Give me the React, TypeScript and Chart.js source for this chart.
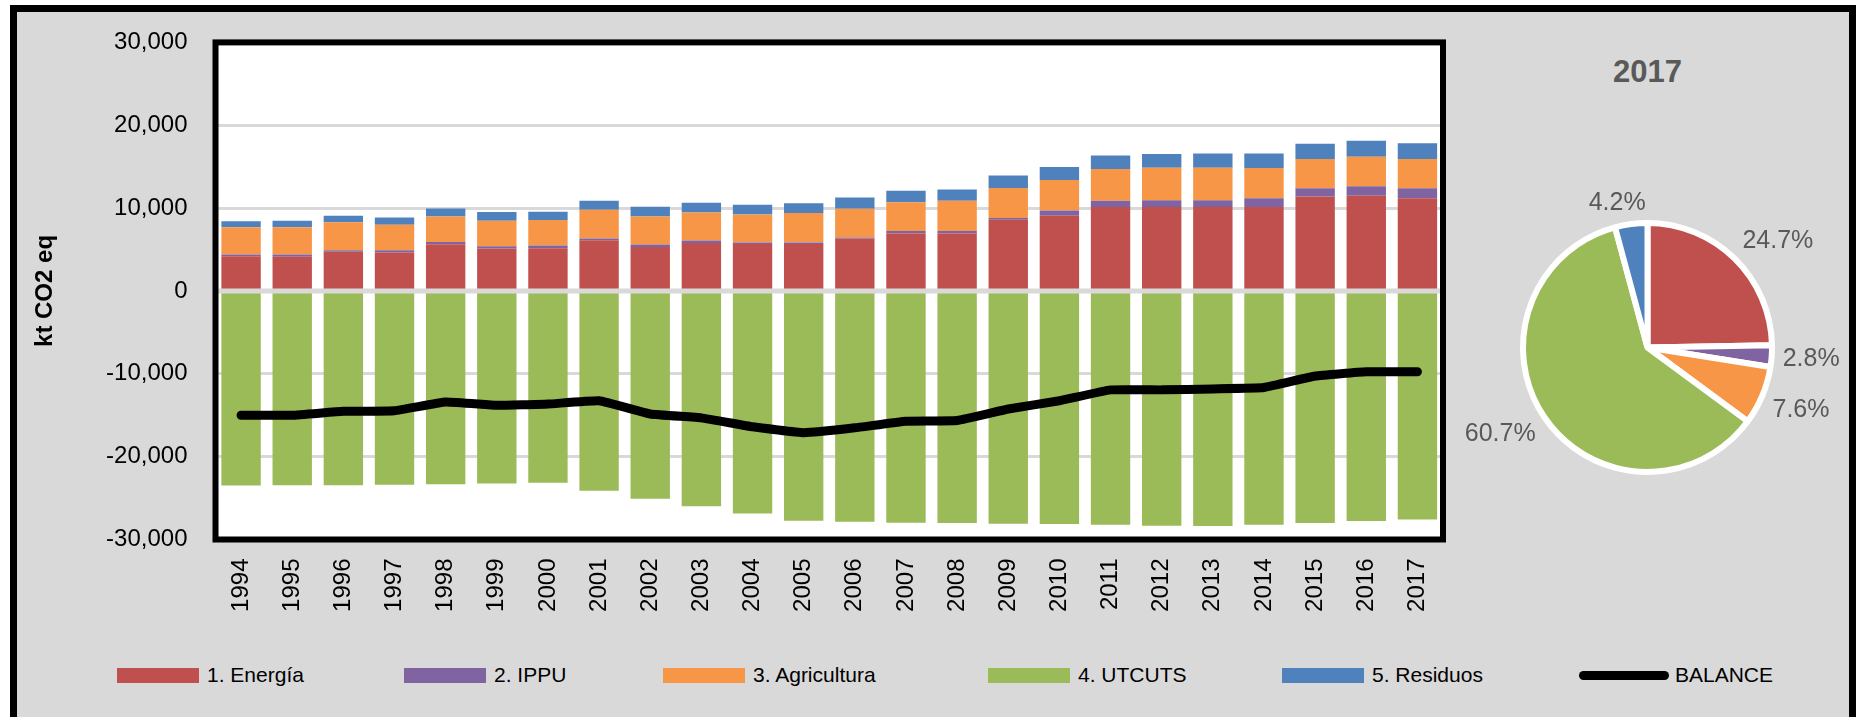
import React, { useEffect, useRef } from "react";
import { Chart, registerables } from "chart.js";

Chart.register(...registerables);

// ---------- data ----------
const years = [
  "1994", "1995", "1996", "1997", "1998", "1999", "2000", "2001", "2002", "2003", "2004", "2005",
  "2006", "2007", "2008", "2009", "2010", "2011", "2012", "2013", "2014", "2015", "2016", "2017",
];

const energia = [
  4200, 4120, 4720, 4640, 5640, 5120, 5160, 6120, 5300, 5800, 5680, 5680,
  6320, 6920, 6920, 8600, 9080, 10120, 10120, 10120, 10120, 11400, 11480, 11200,
];
const ippu = [
  200, 280, 200, 280, 280, 280, 320, 200, 300, 280, 160, 160,
  120, 320, 320, 200, 640, 760, 840, 840, 1080, 1000, 1160, 1200,
];
const agricultura = [
  3280, 3280, 3360, 3080, 3080, 3080, 3080, 3480, 3400, 3400, 3400, 3560,
  3480, 3480, 3640, 3640, 3680, 3840, 3920, 3920, 3640, 3520, 3560, 3520,
];
const utcuts = [
  -23480, -23440, -23440, -23400, -23320, -23240, -23160, -24120, -25070, -25990, -26870, -27740,
  -27860, -27980, -28020, -28100, -28140, -28220, -28340, -28380, -28220, -28020, -27780, -27580,
];
const residuos = [
  720, 800, 800, 880, 960, 1040, 1000, 1080, 1160, 1160, 1160, 1200,
  1360, 1360, 1360, 1480, 1560, 1640, 1640, 1720, 1760, 1840, 1920, 1920,
];
const balance = [
  -15000, -15000, -14530, -14450, -13410, -13810, -13650, -13250, -14850, -15320, -16400, -17110,
  -16520, -15720, -15640, -14250, -13250, -11940, -11940, -11820, -11660, -10270, -9750, -9750,
];

const seriesNames = ["1. Energía", "2. IPPU", "3. Agricultura", "4. UTCUTS", "5. Residuos", "BALANCE"];
const seriesColors = ["#c0504d", "#8064a2", "#f79646", "#9bbb59", "#4f81bd", "#000000"];

const yTicks = [-30000, -20000, -10000, 0, 10000, 20000, 30000];
const yTitle = "kt CO2 eq";

const pieTitle = "2017";
const pieShares = [24.7, 2.8, 7.6, 60.7, 4.2];

// ---------- layout ----------
const FONT = '"Liberation Sans", Arial, sans-serif';
const BAR_W = 1470;
const BAR_H = 640;
const PLOT_LEFT = 215.5;
const PLOT_RIGHT = 1443;
const PLOT_TOP = 39;
const PLOT_BOTTOM = 539.5;

const PIE_LEFT = 1447;
const PIE_TOP = 147;
const PIE_SIZE = 401;
const PIE_BORDER = 6;

const legendX = [117, 404, 663, 988, 1282, 1579];

const clamp1 = (v: number) => Math.max(-1, Math.min(1, v));

export default function App() {
  const barRef = useRef<HTMLCanvasElement | null>(null);
  const pieRef = useRef<HTMLCanvasElement | null>(null);

  useEffect(() => {
    const framePlugin = {
      id: "plotFrame",
      beforeDraw(chart: any) {
        const { ctx, chartArea: a } = chart;
        ctx.save();
        ctx.fillStyle = "#ffffff";
        ctx.fillRect(a.left, a.top, a.right - a.left, a.bottom - a.top);
        ctx.restore();
      },
      afterDatasetsDraw(chart: any) {
        const { ctx, chartArea: a } = chart;
        const y0 = chart.scales.y.getPixelForValue(0);
        ctx.save();
        ctx.strokeStyle = "#d9d9d9";
        ctx.lineWidth = 5;
        ctx.beginPath();
        ctx.moveTo(a.left - 4, y0);
        ctx.lineTo(a.right, y0);
        ctx.stroke();
        ctx.restore();
      },
      afterDraw(chart: any) {
        const { ctx, chartArea: a } = chart;
        ctx.save();
        ctx.strokeStyle = "#000000";
        ctx.lineWidth = 6;
        ctx.strokeRect(a.left, a.top, a.right - a.left, a.bottom - a.top);
        ctx.restore();
      },
    };

    const barData = [energia, ippu, agricultura, utcuts, residuos];
    const barDatasets: any[] = barData.map((d, i) => ({
      type: "bar",
      label: seriesNames[i],
      data: d,
      backgroundColor: seriesColors[i],
      borderWidth: 0,
      stack: "emis",
      order: 1,
      barPercentage: 0.77,
      categoryPercentage: 1,
    }));
    barDatasets.push({
      type: "line",
      label: seriesNames[5],
      data: balance,
      borderColor: seriesColors[5],
      backgroundColor: seriesColors[5],
      borderWidth: 9,
      pointRadius: 0,
      tension: 0.1,
      borderCapStyle: "round",
      borderJoinStyle: "round",
      stack: "balance",
      order: 0,
      fill: false,
    });

    const bar = new Chart(barRef.current as HTMLCanvasElement, {
      type: "bar",
      data: { labels: years, datasets: barDatasets },
      options: {
        responsive: false,
        animation: false,
        layout: { padding: { top: PLOT_TOP, right: BAR_W - PLOT_RIGHT, left: 0, bottom: 0 } },
        plugins: {
          legend: { display: false },
          tooltip: { enabled: false },
        },
        scales: {
          x: {
            stacked: true,
            grid: { display: false, drawTicks: false },
            border: { display: false },
            ticks: {
              autoSkip: false,
              minRotation: 90,
              maxRotation: 90,
              padding: 19,
              color: "#000000",
              font: { family: FONT, size: 24 },
            },
            afterFit: (s: any) => {
              s.height = BAR_H - PLOT_BOTTOM;
            },
          },
          y: {
            stacked: true,
            min: yTicks[0],
            max: yTicks[yTicks.length - 1],
            afterBuildTicks: (s: any) => {
              s.ticks = yTicks.map((v) => ({ value: v }));
            },
            ticks: {
              padding: 28,
              color: "#000000",
              font: { family: FONT, size: 24 },
              callback: (v: any) => Number(v).toLocaleString("en-US"),
            },
            grid: { color: "#d9d9d9", lineWidth: 3, drawTicks: false },
            border: { display: false },
            title: {
              display: true,
              text: yTitle,
              color: "#000000",
              font: { family: FONT, size: 24, weight: "bold" },
              padding: { top: 31, bottom: 0 },
            },
            afterFit: (s: any) => {
              s.width = PLOT_LEFT;
            },
          },
        },
      } as any,
      plugins: [framePlugin],
    });

    const pieLabelPlugin = {
      id: "pieLabels",
      afterDraw(chart: any) {
        const ctx = chart.ctx;
        const meta = chart.getDatasetMeta(0);
        ctx.save();
        ctx.font = `25px ${FONT}`;
        ctx.fillStyle = "#595959";
        ctx.textAlign = "center";
        ctx.textBaseline = "middle";
        meta.data.forEach((arc: any, i: number) => {
          const p = arc.getProps(["x", "y", "startAngle", "endAngle", "outerRadius"], true);
          const mid = (p.startAngle + p.endAngle) / 2;
          const text = pieShares[i].toFixed(1) + "%";
          const w = ctx.measureText(text).width;
          const h = 20;
          const r = p.outerRadius + PIE_BORDER / 2 + 8;
          const c = Math.cos(mid);
          const s = Math.sin(mid);
          const cx = p.x + r * c + (w / 2) * clamp1(c / 0.3);
          const cy = p.y + r * s + (h / 2) * clamp1(s / 0.3);
          ctx.fillText(text, cx, cy);
        });
        ctx.restore();
      },
    };

    const pie = new Chart(pieRef.current as HTMLCanvasElement, {
      type: "pie",
      data: {
        labels: seriesNames.slice(0, 5),
        datasets: [
          {
            data: pieShares,
            backgroundColor: seriesColors.slice(0, 5),
            borderColor: "#ffffff",
            borderWidth: PIE_BORDER,
          },
        ],
      },
      options: {
        responsive: false,
        animation: false,
        radius: 127.5 - PIE_BORDER / 2,
        layout: { padding: 0 },
        plugins: { legend: { display: false }, tooltip: { enabled: false } },
      } as any,
      plugins: [pieLabelPlugin],
    });

    return () => {
      bar.destroy();
      pie.destroy();
    };
  }, []);

  return (
    <div
      style={{
        position: "fixed",
        left: 0,
        top: 0,
        width: 1865,
        height: 717,
        overflow: "hidden",
        background: "#ffffff",
        fontFamily: FONT,
      }}
    >
      <div
        style={{
          position: "absolute",
          left: 10,
          top: 5,
          width: 1846,
          height: 760,
          boxSizing: "border-box",
          border: "7px solid #000",
          background: "#d9d9d9",
        }}
      />
      <canvas
        ref={barRef}
        width={BAR_W}
        height={BAR_H}
        style={{ position: "absolute", left: 0, top: 0, width: BAR_W, height: BAR_H }}
      />
      <canvas
        ref={pieRef}
        width={PIE_SIZE}
        height={PIE_SIZE}
        style={{ position: "absolute", left: PIE_LEFT, top: PIE_TOP, width: PIE_SIZE, height: PIE_SIZE }}
      />
      <div
        style={{
          position: "absolute",
          left: 1547.5,
          top: 54,
          width: 200,
          textAlign: "center",
          fontSize: 31,
          lineHeight: "36px",
          fontWeight: "bold",
          color: "#595959",
        }}
      >
        {pieTitle}
      </div>
      {seriesNames.map((name, i) => {
        const isLine = i === seriesNames.length - 1;
        return (
          <div
            key={name}
            style={{
              position: "absolute",
              left: legendX[i],
              top: 663,
              height: 24,
              display: "flex",
              alignItems: "center",
              whiteSpace: "nowrap",
            }}
          >
            <div
              style={
                isLine
                  ? { width: 90, height: 9, borderRadius: 5, background: seriesColors[i], marginRight: 6 }
                  : { width: 82, height: 15, background: seriesColors[i], marginRight: 8 }
              }
            />
            <span style={{ fontSize: 21, lineHeight: "24px", color: "#000" }}>{name}</span>
          </div>
        );
      })}
    </div>
  );
}
